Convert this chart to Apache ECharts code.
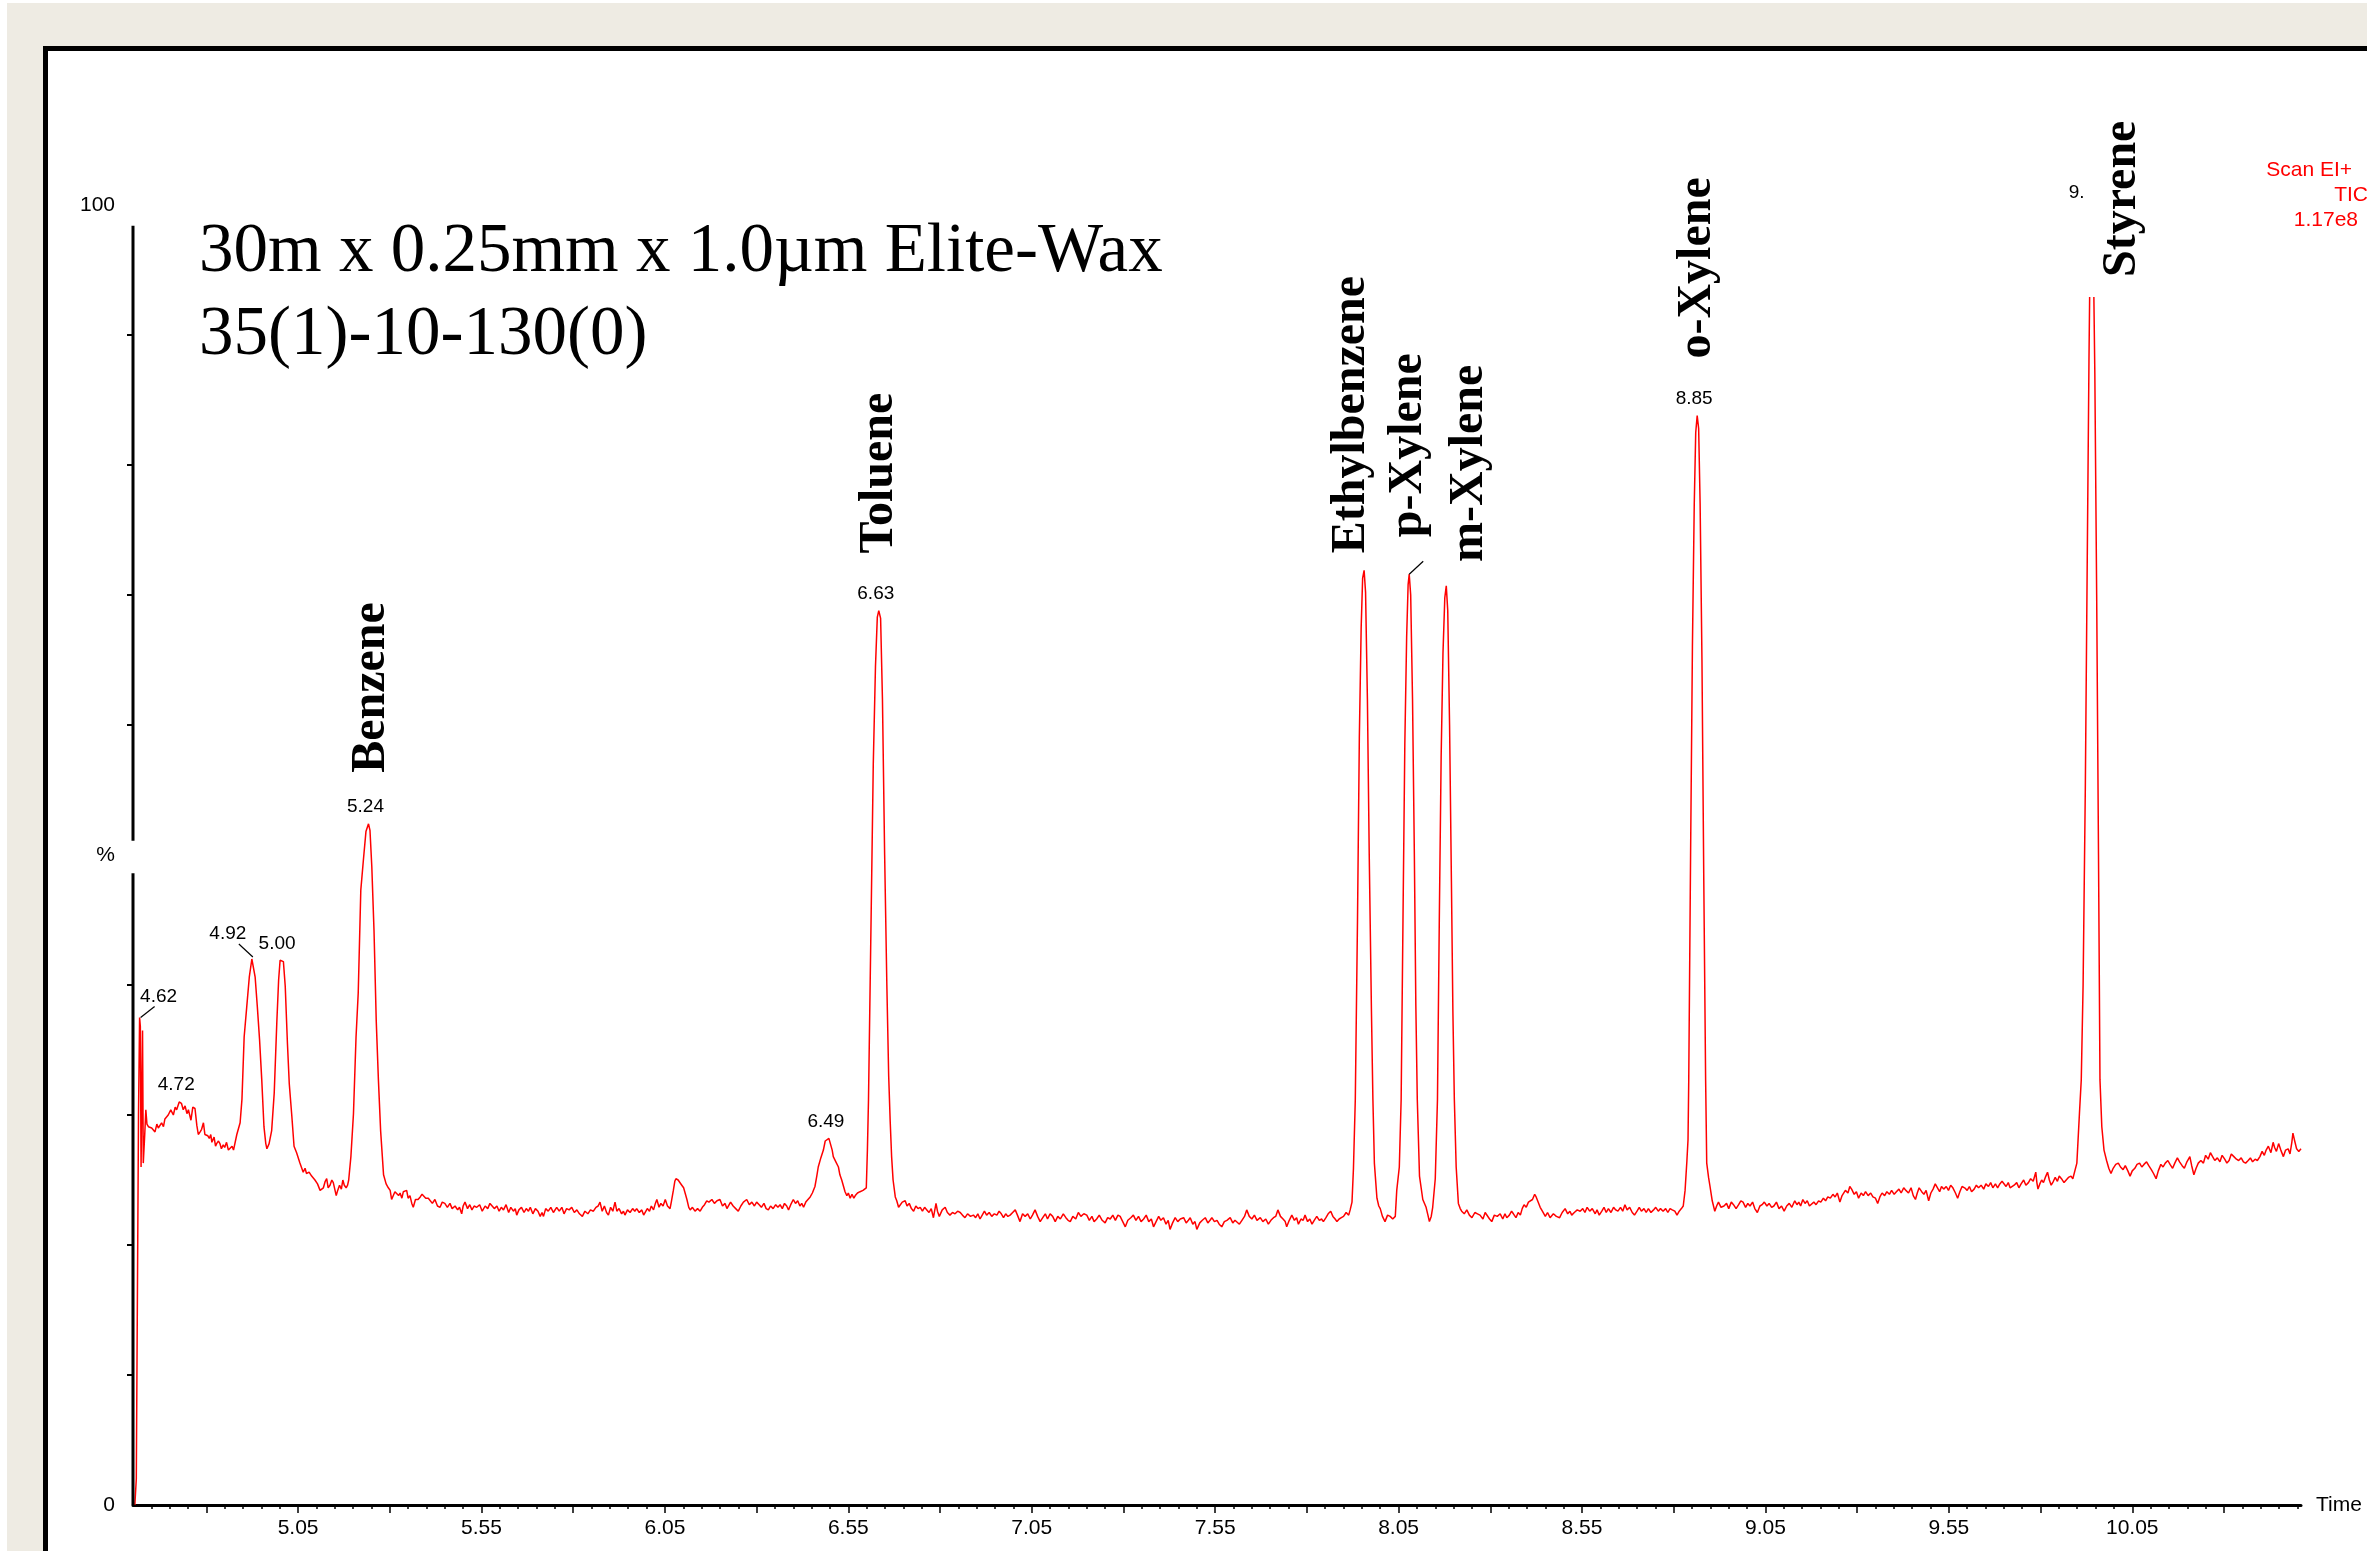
<!DOCTYPE html>
<html lang="en">
<head>
<meta charset="UTF-8">
<title>TIC chromatogram</title>
<script src="https://cdn.jsdelivr.net/npm/echarts@6/dist/echarts.min.js"></script>
<style>
  html, body { margin:0; padding:0; background:#fff; width:2367px; height:1551px; overflow:hidden; }
  #back { position:absolute; left:7px; top:3px; width:2400px; height:1600px; background:#EEEBE3; }
  #panel { position:absolute; left:43px; top:46px; width:2400px; height:1600px; border:5px solid #000; background:#fff; }
  #main { position:absolute; left:0; top:0; width:2367px; height:1551px; }
</style>
</head>
<body>
<div id="back"></div>
<div id="panel"></div>
<div id="main"></div>
<script>
// TIC trace, pairs of [retention time (min), % of full scale]
var ticFront = [
  [4.605,0],[4.609,2],[4.615,30],[4.618,37.5],[4.620,36.8],[4.622,26],[4.624,25.9],[4.626,36.5],[4.628,26.3],
  [4.632,28.5],[4.635,30.4],[4.638,29.3],[4.642,29.1],[4.651,29.0],[4.660,28.7],[4.665,29.3],[4.669,29.0],
  [4.678,29.4],[4.683,29.1],[4.687,29.7],[4.696,30.0],[4.703,30.4],[4.710,30.0],[4.715,30.6],[4.719,30.4],
  [4.726,31.0],[4.732,30.9],[4.737,30.4],[4.742,30.7],[4.747,30.1],[4.751,30.4],[4.758,29.6],[4.763,30.6],
  [4.769,30.5],[4.774,29.2],[4.778,28.5],[4.783,28.7],[4.787,28.9],[4.792,29.4],[4.796,28.5],[4.799,28.6],
  [4.804,28.4],[4.808,28.2],[4.812,28.5],[4.815,27.9],[4.821,28.3],[4.825,27.6],[4.828,27.8],[4.833,28.0],
  [4.837,27.8],[4.841,27.4],[4.846,27.7],[4.850,27.5],[4.855,27.9],[4.860,27.3],[4.865,27.3],[4.870,27.6],
  [4.874,27.3],[4.879,27.2],
  [4.883,28.5],[4.892,29.4],[4.897,31.2],[4.903,36.0],[4.910,38.3],[4.917,40.6],[4.924,42.0],[4.928,41.9],
  [4.933,40.6],[4.939,38.3],[4.945,35.8],[4.951,32.7],[4.957,29.1],[4.962,27.8],[4.965,27.4],[4.971,27.8],
  [4.978,28.8],[4.985,31.7],[4.992,37.1],[4.997,40.4],[5.001,41.9],[5.010,41.8],[5.015,39.9],[5.021,35.5],
  [5.026,32.4],[5.033,29.9],[5.039,27.6],[5.046,27.1]
];
var ticBenzeneToluene = [
  [5.055,26.3],[5.064,25.6],[5.069,25.9],[5.073,25.5],[5.080,25.6],[5.087,25.3],[5.096,25.0],[5.103,24.7],
  [5.110,24.2],[5.115,24.1],[5.119,24.4],[5.124,24.9],[5.128,25.1],[5.132,24.4],[5.137,24.6],[5.142,25.0],
  [5.146,24.8],[5.150,24.3],[5.154,23.8],[5.158,24.2],[5.163,24.6],[5.168,24.3],[5.172,25.0],[5.176,24.6],
  [5.181,24.4],[5.185,24.6],[5.188,25.0],
  [5.194,26.8],[5.201,30.1],[5.208,36.0],[5.214,39.4],[5.221,47.3],[5.228,49.6],[5.235,51.8],[5.242,52.4],
  [5.246,51.9],[5.251,49.1],[5.257,44.2],[5.263,37.3],[5.269,32.7],[5.275,28.8],[5.283,25.4],[5.290,24.7],
  [5.296,24.4],[5.301,24.2],[5.305,23.5],[5.308,23.4],[5.314,24.1],[5.319,24.2],[5.324,23.8],[5.328,24.0],
  [5.333,23.6],[5.337,24.1],[5.341,24.2],[5.346,24.2],[5.350,23.6],[5.355,23.8],[5.360,23.2],[5.364,22.9],
  [5.370,23.5],[5.377,23.5],[5.383,23.7],[5.388,23.9],[5.392,24.0],[5.398,23.6],[5.405,23.6],[5.410,23.5],
  [5.416,23.2],[5.423,23.5],[5.430,23.0],[5.437,22.9],[5.443,23.3],[5.450,23.2],[5.457,22.9],[5.464,23.2],
  [5.470,22.8],[5.478,23.0],[5.485,22.7],[5.490,22.9],[5.496,22.4],[5.500,23.0],[5.505,23.3],[5.512,22.8],
  [5.518,23.1],[5.524,22.7],[5.530,23.0],[5.537,22.9],[5.545,23.1],[5.552,22.6],[5.560,23.0],[5.567,22.8],
  [5.573,23.2],[5.578,23.3],[5.585,22.8],[5.592,23.0],[5.598,22.6],[5.604,22.9],[5.610,22.7],[5.617,23.1],
  [5.624,22.5],[5.630,22.9],[5.637,22.6],[5.642,22.8],[5.646,22.3],[5.652,22.7],[5.659,22.9],[5.666,22.5],
  [5.672,22.8],[5.678,22.6],[5.683,22.9],[5.690,22.4],[5.697,22.8],[5.704,22.6],[5.710,22.2],[5.715,22.5],
  [5.719,22.2],[5.725,22.8],[5.732,22.6],[5.739,22.9],[5.746,22.5],[5.755,22.9],[5.762,22.6],[5.769,22.9],
  [5.775,22.4],[5.782,22.8],[5.789,22.7],[5.796,22.9],[5.803,22.5],[5.810,22.7],[5.817,22.4],[5.825,22.2],
  [5.832,22.6],[5.840,22.4],[5.847,22.7],[5.855,22.6],[5.862,22.9],[5.868,23.0],[5.873,23.3],[5.879,22.6],
  [5.885,23.0],[5.891,22.5],[5.896,22.3],[5.902,22.9],[5.908,22.6],[5.914,23.3],[5.919,22.6],[5.925,22.8],
  [5.932,22.4],[5.937,22.6],[5.941,22.3],[5.948,22.7],[5.955,22.5],[5.962,22.8],[5.968,22.6],[5.973,22.8],
  [5.980,22.5],[5.987,22.7],[5.992,22.3],[5.996,22.4],[6.002,22.8],[6.008,22.6],[6.013,23.0],[6.019,22.7],
  [6.024,23.2],[6.028,23.5],[6.034,22.9],[6.039,23.2],[6.045,23.0],[6.051,23.5],[6.057,23.0],[6.064,22.8],
  [6.068,23.4],[6.073,24.2],[6.077,24.9],[6.080,25.1],[6.086,25.0],[6.091,25.0],[6.096,24.6],[6.101,24.4],
  [6.106,23.9],[6.110,23.5],[6.115,22.9],[6.119,22.7],[6.125,22.9],[6.132,22.6],[6.139,22.8],[6.146,22.6],
  [6.152,22.9],[6.158,23.1],[6.164,23.4],[6.170,23.3],[6.178,23.5],[6.185,23.2],[6.192,23.4],[6.200,23.5],
  [6.207,23.0],[6.214,23.2],[6.219,22.8],[6.223,22.9],[6.229,23.3],[6.236,23.0],[6.243,22.8],[6.250,22.6],
  [6.257,23.0],[6.264,23.3],[6.268,23.4],[6.273,23.5],[6.280,23.1],[6.287,23.3],[6.294,23.0],[6.300,23.3],
  [6.307,23.1],[6.313,22.9],[6.320,23.2],[6.326,22.8],[6.332,22.7],[6.338,23.0],[6.345,22.8],[6.352,23.1],
  [6.358,22.9],[6.364,23.1],[6.370,22.8],[6.376,23.2],[6.382,23.0],[6.387,22.7],[6.393,23.1],[6.400,23.5],
  [6.406,23.2],[6.412,23.4],[6.418,23.0],[6.423,23.2],[6.428,22.9],[6.434,23.3],[6.440,23.5],[6.446,23.7],
  [6.452,24.0],[6.459,24.5],[6.464,25.3],[6.468,26.0],[6.475,26.7],[6.482,27.3],[6.487,28.0],[6.491,28.1],
  [6.497,28.2],[6.502,28.1],[6.506,27.3],[6.509,26.8],[6.516,26.4],[6.523,26.0],[6.527,25.4],[6.532,25.0],
  [6.537,24.5],[6.541,24.1],[6.546,23.8],[6.550,24.0],[6.555,23.6],[6.560,23.9],[6.565,23.6],[6.569,23.8],
  [6.575,24.0],[6.582,24.1],[6.590,24.2],[6.599,24.4],
  [6.602,27.3],[6.605,31.2],[6.612,45],[6.618,57],[6.624,64.5],[6.629,68.3],[6.633,68.8],[6.638,68.2],
  [6.643,62],[6.649,50],[6.655,40],[6.660,33],[6.664,29.6],[6.668,26.8],[6.672,25.0],[6.678,23.7],
  [6.682,23.4],[6.687,22.9]
];
var ticXylenes = [
  [6.691,22.9],[6.697,23.3],[6.705,23.4],[6.710,23.0],[6.716,23.2],[6.722,22.8],[6.728,22.6],[6.734,23.0],
  [6.740,22.8],[6.746,22.9],[6.752,22.6],[6.758,22.9],[6.764,22.7],[6.770,22.5],[6.776,22.8],[6.782,22.1],
  [6.789,23.2],[6.793,22.6],[6.798,22.2],[6.806,22.7],[6.814,22.9],[6.820,22.5],[6.827,22.3],[6.834,22.5],
  [6.841,22.4],[6.848,22.6],[6.855,22.5],[6.861,22.3],[6.868,22.1],[6.875,22.4],[6.883,22.2],[6.891,22.3],
  [6.897,22.1],[6.903,22.4],[6.909,22.0],[6.915,22.3],[6.921,22.6],[6.927,22.3],[6.934,22.5],[6.941,22.2],
  [6.948,22.4],[6.955,22.3],[6.961,22.6],[6.967,22.4],[6.973,22.1],[6.979,22.4],[6.985,22.2],[6.991,22.3],
  [6.998,22.5],[7.005,22.7],[7.011,22.3],[7.018,21.8],[7.025,22.4],[7.032,22.2],[7.039,22.4],[7.046,22.0],
  [7.052,22.3],[7.059,22.7],[7.066,22.2],[7.073,21.8],[7.080,22.1],[7.087,22.4],[7.093,22.0],[7.100,22.4],
  [7.107,22.2],[7.114,21.8],[7.121,22.2],[7.128,22.0],[7.136,22.4],[7.143,22.1],[7.149,21.9],[7.155,21.8],
  [7.162,22.2],[7.170,22.0],[7.177,22.5],[7.184,22.2],[7.192,22.4],[7.200,22.3],[7.207,21.9],[7.214,22.2],
  [7.220,21.8],[7.227,22.0],[7.234,22.3],[7.242,21.9],[7.250,21.7],[7.257,22.1],[7.264,22.0],[7.271,22.3],
  [7.278,21.9],[7.285,22.3],[7.291,22.2],[7.298,21.8],[7.305,21.4],[7.312,21.9],[7.320,22.1],[7.327,22.3],
  [7.334,21.9],[7.341,22.2],[7.348,21.8],[7.355,22.0],[7.362,22.3],[7.369,21.8],[7.376,22.0],[7.382,21.4],
  [7.389,21.8],[7.396,22.2],[7.402,21.9],[7.409,22.1],[7.416,21.6],[7.422,21.9],[7.427,21.2],[7.434,21.7],
  [7.441,22.1],[7.448,21.8],[7.455,22.0],[7.464,22.1],[7.471,21.7],[7.477,21.9],[7.482,22.1],[7.489,21.6],
  [7.495,21.8],[7.500,21.2],[7.508,21.7],[7.515,21.9],[7.523,22.1],[7.530,21.7],[7.536,21.9],[7.541,22.1],
  [7.548,21.8],[7.555,21.9],[7.561,21.6],[7.568,21.4],[7.575,21.8],[7.582,21.9],[7.591,22.1],[7.598,21.7],
  [7.604,21.9],[7.609,22.0],[7.616,21.6],[7.623,21.9],[7.630,22.2],[7.636,22.7],[7.643,22.2],[7.650,22.0],
  [7.657,22.3],[7.664,21.9],[7.673,22.1],[7.680,21.8],[7.688,22.0],[7.695,21.6],[7.702,21.9],[7.709,22.1],
  [7.715,22.2],[7.721,22.7],[7.728,22.2],[7.735,22.0],[7.741,21.8],[7.745,21.4],[7.752,21.9],[7.759,22.3],
  [7.766,21.9],[7.772,22.1],[7.777,21.6],[7.784,22.0],[7.790,21.9],[7.795,22.3],[7.802,21.8],[7.808,22.0],
  [7.814,21.6],[7.820,21.9],[7.827,22.2],[7.834,21.9],[7.840,22.0],[7.845,21.8],[7.852,22.1],[7.858,22.4],
  [7.865,22.6],[7.871,22.2],[7.877,22.0],[7.882,21.8],[7.888,22.0],[7.894,22.1],[7.900,22.2],[7.907,22.5],
  [7.914,22.3],[7.918,22.7],[7.923,23.3],[7.927,25.9],
  [7.932,31.2],[7.938,45],[7.943,59],[7.948,67.5],[7.952,71.3],[7.956,71.9],[7.960,70.2],[7.965,62],
  [7.970,50],[7.976,38],[7.980,31.2],[7.984,26.3],[7.991,23.6],[7.996,23.0],[8.000,22.8],[8.006,22.2],
  [8.013,21.8],[8.020,22.3],[8.027,22.2],[8.034,22.0],[8.041,22.2],[8.045,24.2],[8.052,26.0],
  [8.057,31.2],[8.062,45],[8.067,58.5],[8.072,66.8],[8.076,70.8],[8.079,71.6],[8.083,70.0],[8.088,62],
  [8.093,50],[8.097,38.5],[8.101,31.2],[8.107,25.3],[8.116,23.5],[8.125,22.9],[8.130,22.3],[8.134,21.8],
  [8.139,22.2],[8.143,22.9],[8.150,25.1],
  [8.156,31.2],[8.161,45],[8.166,57.5],[8.171,65.5],[8.176,69.8],[8.180,70.7],[8.184,68.8],[8.189,60],
  [8.194,48],[8.198,38],[8.202,31.2],[8.207,26.0],[8.213,23.2],[8.218,22.8],[8.222,22.6],[8.229,22.4],
  [8.236,22.7],[8.243,22.3],[8.250,22.1],[8.258,22.5],[8.265,22.4],[8.272,22.3],[8.280,22.0],[8.286,22.5],
  [8.291,22.4],[8.298,22.0],[8.304,21.8],[8.311,22.3],[8.319,22.2],[8.327,22.4],[8.334,22.0],[8.340,22.4],
  [8.345,22.1],[8.352,22.3],[8.358,22.6],[8.363,22.4],[8.370,22.1],[8.376,22.5],[8.382,22.3],[8.387,22.8],
  [8.392,23.1],[8.398,22.9],[8.404,23.3],[8.409,23.2],[8.415,23.5],[8.421,23.9],[8.425,23.7],[8.429,23.6],
  [8.436,22.9],[8.442,22.6],[8.450,22.2],[8.456,22.5],[8.463,22.1],[8.472,22.4],[8.480,22.2],[8.489,22.1],
  [8.496,22.5],[8.504,22.8],[8.511,22.4],[8.517,22.6],[8.522,22.3],[8.529,22.5],[8.537,22.7],[8.545,22.6]
];
var ticStyrene = [
  [8.552,22.8],[8.558,22.5],[8.564,22.9],[8.571,22.6],[8.578,22.8],[8.586,22.4],[8.591,22.7],[8.597,22.3],
  [8.604,22.6],[8.610,22.9],[8.616,22.5],[8.622,22.8],[8.629,22.5],[8.636,22.9],[8.642,22.7],[8.648,22.6],
  [8.655,22.9],[8.661,22.6],[8.667,23.1],[8.673,22.7],[8.680,22.9],[8.687,22.5],[8.693,22.3],[8.700,22.6],
  [8.706,22.9],[8.712,22.6],[8.719,22.8],[8.725,22.5],[8.731,22.8],[8.738,22.5],[8.745,22.7],[8.751,22.9],
  [8.758,22.6],[8.764,22.8],[8.771,22.6],[8.778,22.8],[8.784,22.5],[8.790,22.8],[8.796,22.7],[8.803,22.6],
  [8.809,22.3],[8.815,22.6],[8.821,22.8],[8.826,23.0],[8.831,24.2],[8.836,26.5],[8.839,28.1],
  [8.841,32.7],[8.846,50],[8.851,66],[8.856,77],[8.860,82.5],[8.864,83.8],[8.868,82.8],[8.872,77],
  [8.877,65],[8.882,48],[8.887,32.7],[8.890,26.3],[8.895,25.2],[8.899,24.5],[8.905,23.4],[8.912,22.6],
  [8.917,23.0],[8.922,23.3],[8.929,22.9],[8.937,23.0],[8.944,23.2],[8.950,22.8],[8.957,23.3],[8.963,23.1],
  [8.970,22.8],[8.977,23.1],[8.983,23.4],[8.989,23.3],[8.996,22.9],[9.002,23.2],[9.008,23.0],[9.015,23.3],
  [9.021,22.8],[9.028,22.5],[9.035,23.0],[9.041,23.1],[9.047,23.3],[9.054,23.0],[9.060,23.2],[9.067,22.9],
  [9.073,23.0],[9.080,23.3],[9.087,22.8],[9.094,23.0],[9.101,22.6],[9.108,23.0],[9.115,23.2],[9.122,22.9],
  [9.130,23.4],[9.136,23.1],[9.141,23.3],[9.146,23.0],[9.152,23.5],[9.158,23.2],[9.164,23.4],[9.170,23.0],
  [9.175,22.9],[9.182,23.3],[9.188,23.1],[9.195,23.4],[9.201,23.3],[9.208,23.6],[9.214,23.4],[9.220,23.7],
  [9.227,23.6],[9.234,23.9],[9.240,23.7],[9.246,24.0],[9.253,23.3],[9.259,23.8],[9.264,23.9],[9.268,24.2],
  [9.275,24.0],[9.280,24.5],[9.285,24.3],[9.292,23.9],[9.298,24.1],[9.304,23.6],[9.311,24.0],[9.317,23.8],
  [9.323,24.1],[9.330,23.8],[9.337,24.0],[9.343,23.7],[9.350,23.6],[9.356,23.2],[9.362,23.7],[9.368,24.0],
  [9.375,23.8],[9.381,24.1],[9.388,23.9],[9.394,24.2],[9.401,23.9],[9.407,24.1],[9.414,24.3],[9.420,24.0],
  [9.427,24.4],[9.433,24.2],[9.440,24.0],[9.447,24.4],[9.453,23.8],[9.459,23.5],[9.464,24.0],[9.469,24.4],
  [9.476,24.1],[9.482,23.9],[9.488,24.2],[9.495,23.4],[9.501,24.0],[9.507,24.3],[9.513,24.7],[9.519,24.4],
  [9.525,24.1],[9.530,24.5],[9.536,24.3],[9.543,24.5],[9.549,24.2],[9.555,24.6],[9.561,24.4],[9.568,24.0],
  [9.574,23.6],[9.580,24.1],[9.586,24.5],[9.593,24.4],[9.600,24.2],[9.606,24.5],[9.612,24.1],[9.619,24.3],
  [9.625,24.6],[9.631,24.4],[9.638,24.6],[9.645,24.3],[9.651,24.7],[9.658,24.5],[9.664,24.8],[9.670,24.4],
  [9.677,24.7],[9.683,24.4],[9.689,24.7],[9.695,24.9],[9.700,25.0],[9.706,24.5],[9.712,24.8],[9.717,24.4],
  [9.722,24.3],[9.728,24.6],[9.735,24.8],[9.741,24.4],[9.747,24.7],[9.754,25.0],[9.760,24.6],[9.767,24.8],
  [9.773,25.1],[9.780,24.9],[9.787,25.6],[9.790,24.8],[9.793,24.3],[9.798,24.7],[9.803,25.0],[9.808,24.8],
  [9.813,25.2],[9.819,25.6],[9.824,25.0],[9.829,24.6],[9.835,24.9],[9.840,25.2],[9.846,24.9],[9.851,25.3],
  [9.857,25.1],[9.864,24.8],[9.870,25.0],[9.876,25.2],[9.883,25.3],[9.888,25.1],[9.893,25.0],[9.899,26.3],
  [9.906,30.1],
  [9.911,32.7],[9.916,40],[9.922,55],[9.928,75],[9.932,88],[9.935,96],[9.938,100],[9.941,100],
  [9.944,96],[9.948,87],[9.953,70],[9.958,50],[9.962,32.7],[9.967,29.1],[9.973,27.3],[9.980,26.5],
  [9.986,25.9],[9.992,25.5],[9.998,25.9],[10.005,26.2],[10.012,26.3],[10.018,26.0],[10.025,25.8],[10.031,26.1],
  [10.038,25.7],[10.044,25.3],[10.050,25.7],[10.057,25.9],[10.063,26.2],[10.070,26.3],[10.076,26.0],[10.082,26.2],
  [10.089,26.4],[10.095,26.1],[10.102,25.8],[10.108,25.5],[10.115,25.1],[10.121,25.7],[10.128,26.2],[10.134,26.0],
  [10.140,26.3],[10.147,26.5],[10.153,26.2],[10.160,25.9],[10.166,26.3],[10.173,26.7],[10.179,26.4],[10.186,26.1],
  [10.192,25.9],[10.199,26.4],[10.207,26.8],[10.212,26.1],[10.218,25.4],[10.224,25.9],[10.230,26.3],[10.237,26.5],
  [10.244,26.3],[10.250,26.9],[10.257,26.6],[10.263,27.1],[10.269,26.8],[10.275,26.5],[10.282,26.7],[10.289,26.4],
  [10.295,26.9],[10.302,26.6],[10.308,26.3],[10.314,26.5],[10.320,27.0],[10.327,26.8],[10.334,26.6],[10.340,26.5],
  [10.347,26.7],[10.353,26.4],[10.359,26.3],[10.366,26.5],[10.372,26.7],[10.378,26.4],[10.385,26.6],[10.391,26.5],
  [10.398,26.8],[10.404,27.2],[10.410,26.9],[10.415,27.3],[10.421,27.6],[10.428,27.1],[10.434,27.9],[10.438,27.5],
  [10.443,27.2],[10.449,27.8],[10.455,27.3],[10.462,26.8],[10.468,27.3],[10.475,27.4],[10.480,27.0],[10.485,27.9],
  [10.488,28.6],[10.492,28.1],[10.498,27.4],[10.504,27.2],[10.510,27.4]
];
var tic = ticFront.concat(ticBenzeneToluene, ticXylenes, ticStyrene);

var xTickLabels = ['5.05','5.55','6.05','6.55','7.05','7.55','8.05','8.55','9.05','9.55','10.05'];
var yTickLabels = ['0','%','100'];   // at 0, 50 and 100
var rtLabels = ['4.62','4.72','4.92','5.00','5.24','6.49','6.63','8.85','9.94'];
var compoundNames = ['Benzene','Toluene','Ethylbenzene','p-Xylene','m-Xylene','o-Xylene','Styrene'];
var compoundTimes = [5.24, 6.63, 7.95, 8.08, 8.18, 8.86, 9.94];
var titleLines = ['30m x 0.25mm x 1.0\u00b5m Elite-Wax', '35(1)-10-130(0)'];
var infoLines = ['Scan EI+', 'TIC', '1.17e8'];

var SANS = 'Liberation Sans';
var SERIF = 'Liberation Serif';

// ticks: long every 0.25 min, short every 0.05 min
var xMajorTicks = [], xMinorTicks = [];
for (var i = 0; i <= 22; i++) xMajorTicks.push(+(4.80 + i * 0.25).toFixed(2));
for (var j = 1; j <= 118; j++) xMinorTicks.push(+(4.60 + j * 0.05).toFixed(2));

var chart = echarts.init(document.getElementById('main'));

var option = {
    animation: false,
    backgroundColor: 'transparent',
    textStyle: { fontFamily: SANS },
    title: {
        text: titleLines.join('\n'),
        left: 199, top: 211, padding: 0,
        textStyle: { fontFamily: SERIF, fontSize: 69, fontWeight: 'normal', color: '#000', lineHeight: 83 }
    },
    grid: { left: 133, right: 66, top: 205, bottom: 46, containLabel: false, outerBoundsMode: 'none' },
    xAxis: [
        {
            type: 'value', min: 4.60, max: 10.51, position: 'bottom',
            name: 'Time', nameLocation: 'end', nameGap: 15,
            nameTextStyle: { fontFamily: SANS, fontSize: 21, color: '#000', verticalAlign: 'middle', align: 'left' },
            axisLine: { show: true, lineStyle: { color: '#000', width: 3 } },
            axisTick: { show: true, inside: false, length: 8, customValues: xMajorTicks, lineStyle: { color: '#000', width: 1.5 } },
            axisLabel: {
                show: true, margin: 13, fontFamily: SANS, fontSize: 21, color: '#000',
                customValues: xTickLabels.map(Number),
                formatter: function (v) { return v.toFixed(2); }
            },
            splitLine: { show: false }
        },
        {
            type: 'value', min: 4.60, max: 10.51, position: 'bottom', offset: 0,
            axisLine: { show: false },
            axisTick: { show: true, inside: false, length: 4, customValues: xMinorTicks, lineStyle: { color: '#000', width: 1.5 } },
            axisLabel: { show: false },
            splitLine: { show: false }
        }
    ],
    yAxis: {
        type: 'value', min: 0, max: 100,
        axisLine: { show: false },
        axisTick: { show: true, inside: false, length: 6, customValues: [10, 20, 30, 40, 60, 70, 80, 90], lineStyle: { color: '#000', width: 2 } },
        axisLabel: {
            show: true, margin: 18, fontFamily: SANS, fontSize: 21, color: '#000',
            customValues: [0, 50, 100],
            formatter: function (v) { return yTickLabels[Math.round(v / 50)]; }
        },
        splitLine: { show: false }
    },
    series: [{
        type: 'line',
        data: tic,
        showSymbol: false,
        symbol: 'none',
        z: 10,
        lineStyle: { color: '#ff0000', width: 1.5 }
    }]
};
chart.setOption(option);

// annotations placed from the data through the series' own coordinate system
function px(t, p) { return chart.convertToPixel({ seriesIndex: 0 }, [t, p]); }
function apex(t) {
    var best = null;
    tic.forEach(function (d) {
        if (Math.abs(d[0] - t) <= 0.016 && (!best || d[1] > best[1])) best = d;
    });
    return best;
}

var nameOffset = {
    'Benzene': [3, -51], 'Toluene': [1, -57], 'Ethylbenzene': [-13, -17], 'p-Xylene': [-1, -37],
    'm-Xylene': [23, -24], 'o-Xylene': [0, -57], 'Styrene': [31, 72]
};
var rtOffset = { '4.62': [19, -21], '4.92': [-24, -25], '9.94': [-4, -12] };
var leaders = { '4.62': [[1, 0], [15, -11]], '4.92': [[1, -2], [-13, -15]] };

var g = [];

// y axis line, broken where the % sign sits
[[0, 48.6], [51.1, 98.4]].forEach(function (r) {
    var a = px(4.60, r[0]), b = px(4.60, r[1]);
    g.push({ type: 'line', z: 20, shape: { x1: a[0], y1: a[1], x2: b[0], y2: b[1] }, style: { stroke: '#000', lineWidth: 3 } });
});

// retention time labels
rtLabels.forEach(function (lab) {
    var a = apex(parseFloat(lab)), p = px(a[0], a[1]);
    var off = rtOffset[lab] || [-3, -17];
    g.push({
        type: 'text', z: 40, x: p[0] + off[0], y: p[1] + off[1],
        style: { text: lab, fontFamily: SANS, fontSize: 19, fill: '#000',
                 align: 'center', textAlign: 'center', verticalAlign: 'middle', textVerticalAlign: 'middle' }
    });
    if (leaders[lab]) {
        var l = leaders[lab];
        g.push({ type: 'line', z: 40,
                 shape: { x1: p[0] + l[0][0], y1: p[1] + l[0][1], x2: p[0] + l[1][0], y2: p[1] + l[1][1] },
                 style: { stroke: '#000', lineWidth: 1.2 } });
    }
});

// compound names
compoundNames.forEach(function (name, k) {
    var a = apex(compoundTimes[k]), p = px(a[0], a[1]);
    var off = nameOffset[name];
    var x = p[0] + off[0], y = p[1] + off[1];
    if (name === 'p-Xylene') {
        // the hidden 8.08 label leaves only its leader stroke
        g.push({ type: 'line', z: 40, shape: { x1: p[0], y1: p[1], x2: p[0] + 14, y2: p[1] - 13 }, style: { stroke: '#000', lineWidth: 1.2 } });
    }
    if (name === 'Styrene') {
        // label box blanks out the top of the styrene peak and part of its time label
        g.push({ type: 'rect', z: 50, shape: { x: x - 38, y: y - 177, width: 68, height: 197 }, style: { fill: '#fff' } });
    }
    g.push({
        type: 'text', z: 60, x: x, y: y, rotation: Math.PI / 2,
        style: { text: name, fontFamily: SERIF, fontSize: 48, fontWeight: 'bold', fill: '#000',
                 align: 'left', textAlign: 'left', verticalAlign: 'middle', textVerticalAlign: 'middle' }
    });
});

// red trace info, top right
var infoRight = [15, -1, 9];
infoLines.forEach(function (txt, k) {
    g.push({
        type: 'text', z: 40, right: infoRight[k], top: 160 + k * 25,
        style: { text: txt, fontFamily: SANS, fontSize: 21, fill: '#ff0000' }
    });
});

chart.setOption({ graphic: { elements: g } });
</script>
</body>
</html>
